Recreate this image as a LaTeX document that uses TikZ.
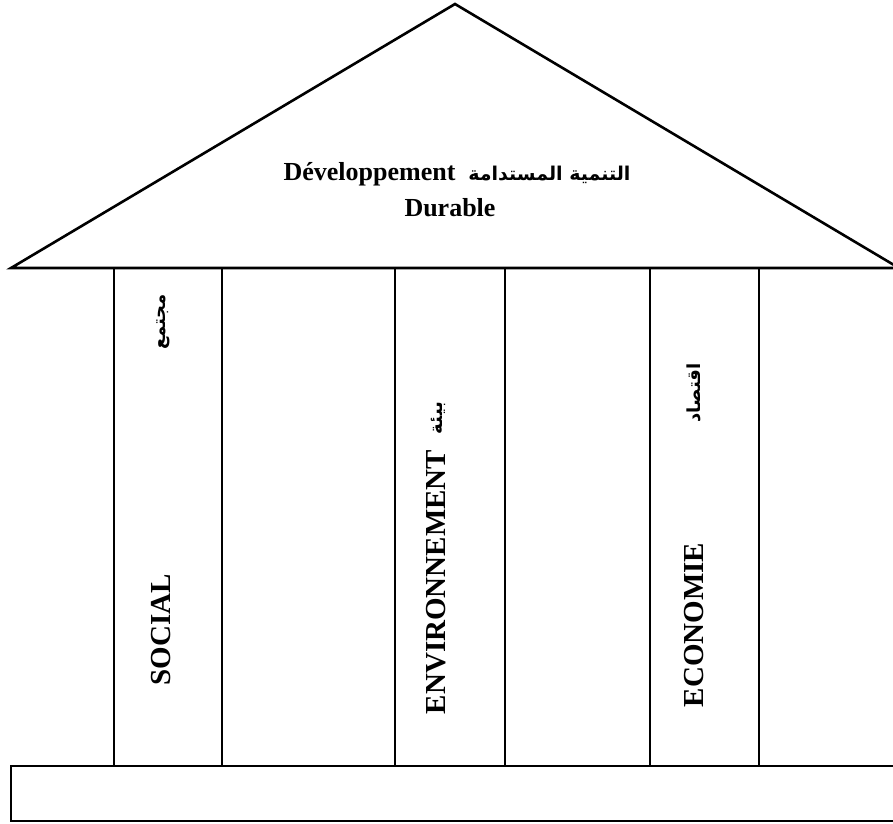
\documentclass[tikz,border=0pt]{standalone}
\usepackage{fontspec}
\setmainfont{Liberation Serif}
\newfontfamily\arabicfont[Script=Arabic]{DejaVu Sans}
\TeXXeTstate=1
\begin{document}
\begin{tikzpicture}[x=1pt,y=-1pt,line width=2.6pt,
  roofword/.style={anchor=base,font=\bfseries\fontsize{26}{30}\selectfont},
  pillarword/.style={rotate=90,anchor=base,font=\bfseries\fontsize{29}{30}\selectfont},
  arabword/.style={rotate=90,anchor=base,font=\arabicfont\bfseries\fontsize{18}{22}\selectfont}]
\clip(0,0)rectangle(893,823);
% roof
\coordinate(apex)at(455,4);
\coordinate(eaveL)at(11,268);
\coordinate(eaveR)at(899,268);
\draw(eaveL)--(apex)--(eaveR)--cycle;
\node[roofword](roof1)at(457,180){Développement\ \ {\arabicfont\fontsize{19}{22}\selectfont\beginR التنمية المستدامة\endR}};
\node[roofword](roof2)at(450,216){Durable};
% pillars
\foreach \x in {114,222,395,505,650,759}
  \draw(\x,268)--(\x,766);
% base
\draw(11,766)rectangle(899,821);
% pillar texts
\node[pillarword](social)at(170,630){SOCIAL};
\node[arabword](mujtama)at(165,322){\beginR مجتمع\endR};
\node[pillarword](envir)at(445,582){ENVIRONNEMENT};
\node[arabword](biaa)at(442,418){\beginR بيئة\endR};
\node[pillarword](econ)at(703,625){ECONOMIE};
\node[arabword](iqtisad)at(700,393){\beginR اقتصاد\endR};
\end{tikzpicture}
\end{document}
